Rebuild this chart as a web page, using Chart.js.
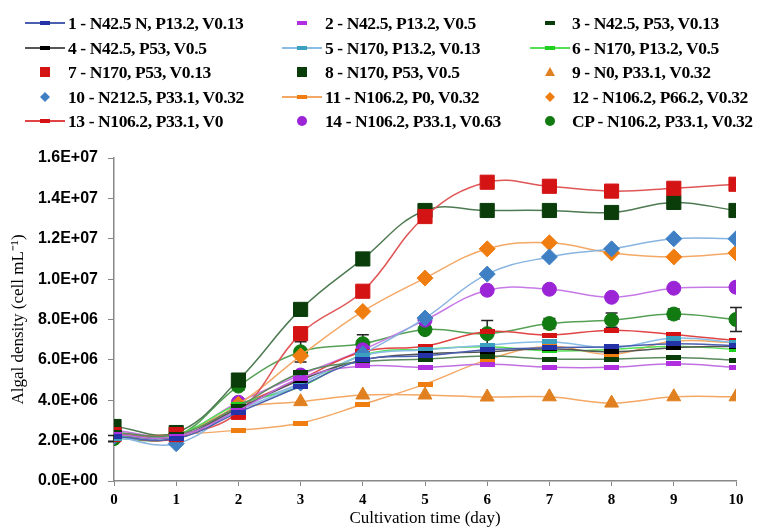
<!DOCTYPE html>
<html>
<head>
<meta charset="utf-8">
<script src="https://cdn.jsdelivr.net/npm/chart.js@4.4.0/dist/chart.umd.min.js"></script>
<style>
  html, body { margin: 0; padding: 0; background: #fff; }
  #wrap { position: relative; width: 763px; height: 529px; overflow: hidden; }
  #chart { position: absolute; left: 0; top: 0; }
  .lgt { position: absolute; height: 20px; line-height: 20px; white-space: nowrap;
         font: bold 17.5px "Liberation Serif", "Times New Roman", serif; color: #000; letter-spacing: -0.4px; }
  .lgs { position: absolute; }
</style>
</head>
<body>
<div id="wrap">
  <canvas id="chart" width="763" height="529"></canvas>
  <div id="legend"></div>
</div>
<script>
// cultivation days
const days = [0, 1, 2, 3, 4, 5, 6, 7, 8, 9, 10];

const seriesNames = [
  '1 - N42.5 N, P13.2, V0.13', '2 - N42.5, P13.2, V0.5', '3 - N42.5, P53, V0.13',
  '4 - N42.5, P53, V0.5', '5 - N170, P13.2, V0.13', '6 - N170, P13.2, V0.5',
  '7 - N170, P53, V0.13', '8 - N170, P53, V0.5', '9 - N0, P33.1, V0.32',
  '10 - N212.5, P33.1, V0.32', '11 - N106.2, P0, V0.32', '12 - N106.2, P66.2, V0.32',
  '13 - N106.2, P33.1, V0', '14 - N106.2, P33.1, V0.63', 'CP - N106.2, P33.1, V0.32'
];

// algal density (cell mL-1)
const s1  = [2.2e6, 2.1e6, 3.4e6, 4.7e6, 6.0e6, 6.2e6, 6.5e6, 6.6e6, 6.65e6, 6.8e6, 6.7e6];
const s2  = [2.3e6, 2.2e6, 3.5e6, 5.1e6, 5.7e6, 5.63e6, 5.78e6, 5.63e6, 5.63e6, 5.81e6, 5.63e6];
const s3  = [2.4e6, 2.3e6, 3.7e6, 5.35e6, 5.9e6, 6.04e6, 6.19e6, 6.04e6, 6.04e6, 6.12e6, 5.99e6];
const s4  = [2.3e6, 2.2e6, 3.6e6, 5.0e6, 6.0e6, 6.3e6, 6.4e6, 6.55e6, 6.4e6, 6.6e6, 6.68e6];
const s5  = [2.1e6, 2.2e6, 3.5e6, 4.8e6, 6.2e6, 6.5e6, 6.73e6, 6.9e6, 6.6e6, 7.08e6, 6.85e6];
const s6  = [2.2e6, 2.3e6, 3.8e6, 4.67e6, 6.24e6, 6.53e6, 6.65e6, 6.45e6, 6.52e6, 6.68e6, 6.52e6];
const s7  = [2.3e6, 2.3e6, 3.4e6, 7.3e6, 9.4e6, 13.1e6, 14.8e6, 14.6e6, 14.36e6, 14.5e6, 14.7e6];
const s8  = [2.7e6, 2.4e6, 5.0e6, 8.5e6, 11.0e6, 13.4e6, 13.4e6, 13.4e6, 13.3e6, 13.8e6, 13.4e6];
const s9  = [2.3e6, 2.3e6, 3.6e6, 3.93e6, 4.26e6, 4.26e6, 4.16e6, 4.17e6, 3.86e6, 4.17e6, 4.17e6];
const s10 = [2.2e6, 1.85e6, 3.6e6, 4.85e6, 6.3e6, 8.07e6, 10.25e6, 11.1e6, 11.5e6, 12.0e6, 12.0e6];
const s11 = [2.2e6, 2.3e6, 2.52e6, 2.87e6, 3.8e6, 4.8e6, 6.0e6, 6.67e6, 6.27e6, 6.93e6, 6.85e6];
const s12 = [2.3e6, 2.3e6, 3.8e6, 6.2e6, 8.4e6, 10.05e6, 11.5e6, 11.8e6, 11.3e6, 11.1e6, 11.3e6];
const s13 = [2.2e6, 2.1e6, 3.7e6, 5.05e6, 6.4e6, 6.68e6, 7.4e6, 7.23e6, 7.47e6, 7.26e6, 6.95e6];
const s14 = [2.5e6, 2.3e6, 3.9e6, 5.25e6, 6.5e6, 7.97e6, 9.45e6, 9.5e6, 9.1e6, 9.55e6, 9.6e6];
const sCP = [2.1e6, 2.2e6, 4.7e6, 6.4e6, 6.8e6, 7.5e6, 7.3e6, 7.8e6, 7.97e6, 8.27e6, 8.0e6];
const cpErr = [0.15e6, 0.15e6, 0.2e6, 0.5e6, 0.45e6, 0.1e6, 0.65e6, 0.25e6, 0.35e6, 0.25e6, 0.6e6];

const allSeries = [s1, s2, s3, s4, s5, s6, s7, s8, s9, s10, s11, s12, s13, s14, sCP];

// looks: line colour, marker shape, marker colour, legend shows line?
const lineColors   = ['#4a5fb0', '#c070e0', '#5a8a5e', '#555555', '#88bde6', '#55e055', '#e05555', '#4e7a52',
                      '#f4a866', '#88b4e0', '#f4a866', '#f4a866', '#e04444', '#c77ae6', '#55a055'];
const markerColors = ['#2434a8', '#b030e0', '#0b3d0b', '#000000', '#3ba0c0', '#1fd01f', '#d41414', '#0b3d0b',
                      '#e08020', '#3f80c4', '#f07d10', '#f07d10', '#d41414', '#9a24d6', '#117a11'];
const markerShapes = ['dash', 'dash', 'dash', 'dash', 'dash', 'dash', 'rect', 'rect',
                      'triangle', 'rectRot', 'dash', 'rectRot', 'dash', 'circle', 'circle'];
const legendLine   = [true, false, false, true, true, true, false, false,
                      false, false, true, false, true, false, false];

function dashImg(color, w, h) {
  const c = document.createElement('canvas');
  c.width = w; c.height = h;
  const g = c.getContext('2d');
  g.fillStyle = color;
  g.fillRect(0, 0, w, h);
  return c;
}

const radius = { rect: 10, rectRot: 8, circle: 7, triangle: 8, dash: 8 };

const datasets = allSeries.map((vals, i) => {
  const shape = markerShapes[i];
  return {
    label: seriesNames[i],
    data: days.map((d, k) => ({ x: d, y: vals[k] })),
    borderColor: lineColors[i],
    borderWidth: 1.5,
    tension: 0.4,
    pointStyle: shape === 'dash' ? dashImg(markerColors[i], 15, 5) : shape,
    pointRadius: radius[shape],
    pointBackgroundColor: markerColors[i],
    pointBorderColor: markerColors[i],
    pointBorderWidth: 1
  };
});

function sci(v) {
  if (v === 0) return '0.0E+00';
  const e = Math.floor(Math.log10(v) + 1e-9);
  const m = v / Math.pow(10, e);
  return m.toFixed(1) + 'E+' + String(e).padStart(2, '0');
}

const cpIndex = allSeries.length - 1;
const errorBars = {
  id: 'errorBars',
  beforeDatasetsDraw(chart) {
    const ctx = chart.ctx;
    const meta = chart.getDatasetMeta(cpIndex);
    const ys = chart.scales.y;
    ctx.save();
    ctx.strokeStyle = '#222';
    ctx.lineWidth = 1.5;
    meta.data.forEach((pt, k) => {
      const top = ys.getPixelForValue(sCP[k] + cpErr[k]);
      const bot = ys.getPixelForValue(sCP[k] - cpErr[k]);
      ctx.beginPath();
      ctx.moveTo(pt.x, top); ctx.lineTo(pt.x, bot);
      ctx.moveTo(pt.x - 6, top); ctx.lineTo(pt.x + 6, top);
      ctx.moveTo(pt.x - 6, bot); ctx.lineTo(pt.x + 6, bot);
      ctx.stroke();
    });
    ctx.restore();
  }
};

new Chart(document.getElementById('chart'), {
  type: 'line',
  data: { datasets },
  plugins: [errorBars],
  options: {
    responsive: false,
    animation: false,
    devicePixelRatio: 1,
    layout: { padding: { top: 158, right: 27, left: 0, bottom: 0 } },
    plugins: { legend: { display: false }, tooltip: { enabled: false } },
    scales: {
      x: {
        type: 'linear', min: 0, max: 10,
        ticks: { stepSize: 1, color: '#000', padding: 5,
                 font: { family: 'Liberation Serif', weight: 'bold', size: 15 } },
        grid: { drawOnChartArea: false, tickLength: 5, color: '#888' },
        border: { color: '#888', width: 1.5 },
        title: { display: true, text: 'Cultivation time (day)', color: '#000',
                 font: { family: 'Liberation Serif', size: 17 }, padding: { top: 0, bottom: 0 } },
        afterFit(s) { s.height = 48; }
      },
      y: {
        min: 0, max: 1.6e7,
        ticks: { stepSize: 2e6, color: '#000', padding: 10, callback: v => sci(v),
                 font: { family: 'Liberation Sans', weight: 'bold', size: 16 } },
        grid: { drawOnChartArea: false, tickLength: 6, color: '#888' },
        border: { color: '#888', width: 1.5 },
        title: { display: true, text: 'Algal density (cell mL\u207B\u00B9)', color: '#000',
                 font: { family: 'Liberation Serif', size: 17 }, padding: { top: 8, bottom: 0 } },
        afterFit(s) { s.width = 114; }
      }
    }
  }
});

// legend, 3 columns x 5 rows
const colText = [68, 325, 572];
const colSwatch = [25, 282, 530];
const swatchW = 40;
const rowY = [23, 47.5, 72, 96.5, 121];
const legend = document.getElementById('legend');

function drawShape(g, shape, x, y, color, r) {
  g.fillStyle = color;
  g.beginPath();
  if (shape === 'dash') { g.fillRect(x - 5, y - 2, 10, 4); return; }
  if (shape === 'rect') g.rect(x - r, y - r, 2 * r, 2 * r);
  if (shape === 'rectRot') { g.moveTo(x, y - r); g.lineTo(x + r, y); g.lineTo(x, y + r); g.lineTo(x - r, y); g.closePath(); }
  if (shape === 'circle') g.arc(x, y, r, 0, Math.PI * 2);
  if (shape === 'triangle') { g.moveTo(x, y - r); g.lineTo(x + r, y + r * 0.8); g.lineTo(x - r, y + r * 0.8); g.closePath(); }
  g.fill();
}

seriesNames.forEach((name, i) => {
  const col = i % 3, row = Math.floor(i / 3);
  const sw = document.createElement('canvas');
  sw.className = 'lgs';
  sw.width = swatchW; sw.height = 16;
  sw.style.left = colSwatch[col] + 'px';
  sw.style.top = (rowY[row] - 8) + 'px';
  const g = sw.getContext('2d');
  if (legendLine[i]) {
    g.strokeStyle = lineColors[i]; g.lineWidth = 2;
    g.beginPath(); g.moveTo(0, 8); g.lineTo(swatchW, 8); g.stroke();
  }
  drawShape(g, markerShapes[i], swatchW / 2, 8, markerColors[i], 5);
  legend.appendChild(sw);

  const txt = document.createElement('div');
  txt.className = 'lgt';
  txt.textContent = name;
  txt.style.left = colText[col] + 'px';
  txt.style.top = (rowY[row] - 10) + 'px';
  legend.appendChild(txt);
});
</script>
</body>
</html>
